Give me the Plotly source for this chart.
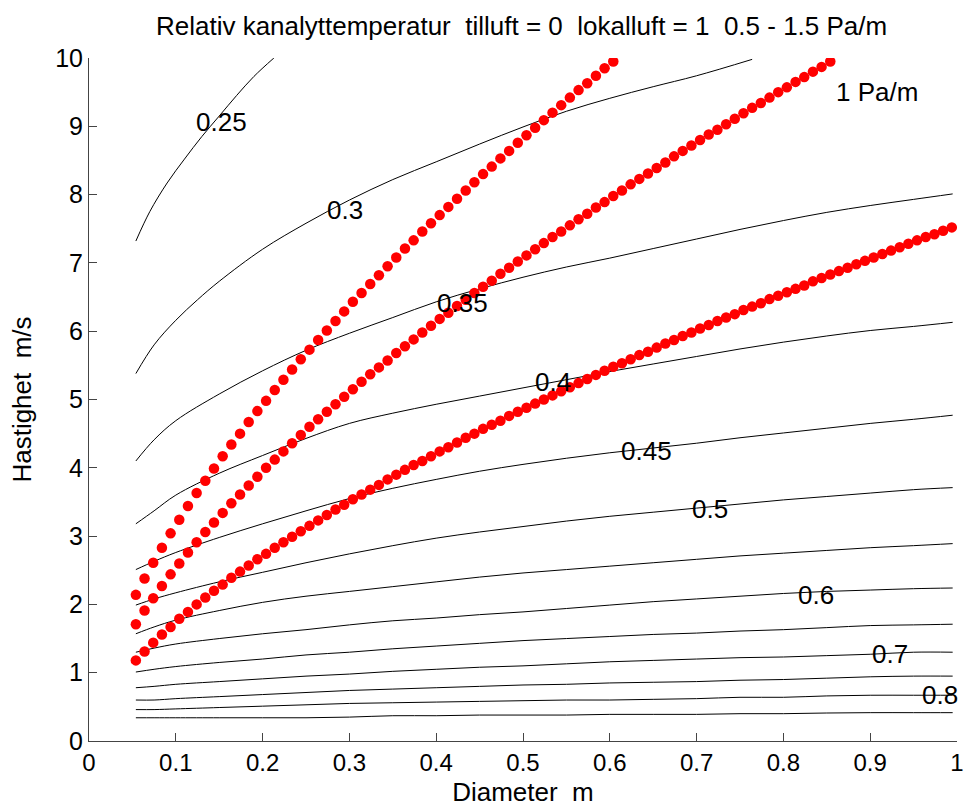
import plotly.graph_objects as go

# Diameters (m) at which the red pressure-drop dots are drawn
D = [0.054, 0.064, 0.074, 0.084, 0.094, 0.104, 0.114, 0.124, 0.134, 0.144,
     0.154, 0.164, 0.174, 0.184, 0.194, 0.204, 0.214, 0.224, 0.234, 0.244,
     0.254, 0.264, 0.274, 0.284, 0.294, 0.304, 0.314, 0.324, 0.334, 0.344,
     0.354, 0.364, 0.374, 0.384, 0.394, 0.404, 0.414, 0.424, 0.434, 0.444,
     0.454, 0.464, 0.474, 0.484, 0.494, 0.504, 0.514, 0.524, 0.534, 0.544,
     0.554, 0.564, 0.574, 0.584, 0.594, 0.604, 0.614, 0.624, 0.634, 0.644,
     0.654, 0.664, 0.674, 0.684, 0.694, 0.704, 0.714, 0.724, 0.734, 0.744,
     0.754, 0.764, 0.774, 0.784, 0.794, 0.804, 0.814, 0.824, 0.834, 0.844,
     0.854, 0.864, 0.874, 0.884, 0.894, 0.904, 0.914, 0.924, 0.934, 0.944,
     0.954, 0.964, 0.974, 0.984, 0.994]

# Velocity (m/s) along constant pressure-drop lines
V_05 = [1.18, 1.31, 1.44, 1.56, 1.67, 1.79, 1.89, 2.00, 2.10, 2.20,
        2.29, 2.39, 2.48, 2.57, 2.66, 2.74, 2.83, 2.91, 2.99, 3.07,
        3.15, 3.23, 3.31, 3.39, 3.46, 3.54, 3.61, 3.68, 3.75, 3.83,
        3.90, 3.97, 4.04, 4.10, 4.17, 4.24, 4.30, 4.37, 4.44, 4.50,
        4.57, 4.63, 4.69, 4.76, 4.82, 4.88, 4.94, 5.00, 5.06, 5.12,
        5.18, 5.24, 5.30, 5.36, 5.42, 5.48, 5.53, 5.59, 5.65, 5.70,
        5.76, 5.82, 5.87, 5.93, 5.98, 6.04, 6.09, 6.15, 6.20, 6.25,
        6.31, 6.36, 6.41, 6.47, 6.52, 6.57, 6.62, 6.67, 6.73, 6.78,
        6.83, 6.88, 6.93, 6.98, 7.03, 7.08, 7.13, 7.18, 7.23, 7.28,
        7.33, 7.38, 7.42, 7.47, 7.52]
V_10 = [1.71, 1.91, 2.09, 2.27, 2.44, 2.60, 2.76, 2.91, 3.06, 3.20,
        3.34, 3.48, 3.61, 3.74, 3.87, 4.00, 4.12, 4.24, 4.36, 4.48,
        4.60, 4.71, 4.82, 4.93, 5.04, 5.15, 5.26, 5.37, 5.47, 5.57,
        5.68, 5.78, 5.88, 5.98, 6.08, 6.18, 6.27, 6.37, 6.46, 6.56,
        6.65, 6.74, 6.84, 6.93, 7.02, 7.11, 7.20, 7.29, 7.38, 7.46,
        7.55, 7.64, 7.72, 7.81, 7.89, 7.98, 8.06, 8.15, 8.23, 8.31,
        8.39, 8.47, 8.56, 8.64, 8.72, 8.80, 8.88, 8.95, 9.03, 9.11,
        9.19, 9.27, 9.34, 9.42, 9.50, 9.57, 9.65, 9.72, 9.80, 9.87,
        9.95]
V_15 = [2.14, 2.38, 2.61, 2.83, 3.04, 3.24, 3.44, 3.63, 3.81, 3.99,
        4.17, 4.34, 4.50, 4.67, 4.83, 4.98, 5.14, 5.29, 5.44, 5.59,
        5.73, 5.87, 6.01, 6.15, 6.29, 6.43, 6.56, 6.69, 6.82, 6.95,
        7.08, 7.21, 7.33, 7.46, 7.58, 7.70, 7.82, 7.94, 8.06, 8.18,
        8.30, 8.41, 8.53, 8.64, 8.76, 8.87, 8.98, 9.09, 9.20, 9.31,
        9.42, 9.53, 9.63, 9.74, 9.85, 9.95]

# Contour lines of relative duct temperature
C025_X = [0.054, 0.07, 0.09, 0.11, 0.13, 0.15, 0.17, 0.19, 0.213]
C025_Y = [7.32, 7.75, 8.17, 8.52, 8.85, 9.15, 9.45, 9.73, 10.0]
C030_X = [0.054, 0.075, 0.1, 0.125, 0.15, 0.2, 0.25, 0.3, 0.35, 0.4,
          0.45, 0.5, 0.55, 0.6, 0.65, 0.7, 0.764]
C030_Y = [5.38, 5.80, 6.16, 6.46, 6.73, 7.20, 7.58, 7.92, 8.22, 8.48,
          8.74, 8.99, 9.22, 9.41, 9.58, 9.74, 9.98]
CX = [0.054, 0.075, 0.1, 0.15, 0.2, 0.25, 0.3, 0.35, 0.4, 0.45, 0.5,
      0.55, 0.6, 0.65, 0.7, 0.75, 0.8, 0.85, 0.9, 0.95, 0.995]
C035 = [4.10, 4.41, 4.69, 5.08, 5.42, 5.72, 5.97, 6.20, 6.43, 6.62, 6.79,
        6.94, 7.07, 7.21, 7.35, 7.49, 7.62, 7.74, 7.84, 7.93, 8.01]
C040 = [3.18, 3.37, 3.60, 3.92, 4.18, 4.43, 4.65, 4.80, 4.93, 5.05, 5.17,
        5.29, 5.41, 5.52, 5.63, 5.74, 5.84, 5.93, 6.01, 6.07, 6.13]
C045 = [2.51, 2.63, 2.76, 2.98, 3.18, 3.37, 3.55, 3.70, 3.83, 3.95, 4.05,
        4.14, 4.22, 4.29, 4.36, 4.44, 4.51, 4.58, 4.65, 4.71, 4.77]
C050 = [1.99, 2.08, 2.17, 2.33, 2.47, 2.61, 2.74, 2.86, 2.97, 3.06, 3.14,
        3.22, 3.29, 3.35, 3.41, 3.47, 3.53, 3.58, 3.63, 3.68, 3.71]
C055 = [1.57, 1.67, 1.77, 1.91, 2.03, 2.12, 2.19, 2.26, 2.33, 2.40, 2.46,
        2.51, 2.56, 2.61, 2.66, 2.71, 2.75, 2.79, 2.83, 2.86, 2.89]
C060 = [1.30, 1.36, 1.42, 1.50, 1.57, 1.63, 1.70, 1.76, 1.80, 1.85, 1.89,
        1.94, 1.99, 2.04, 2.08, 2.12, 2.16, 2.19, 2.21, 2.23, 2.24]
C065 = [1.01, 1.05, 1.09, 1.15, 1.20, 1.26, 1.30, 1.35, 1.39, 1.43, 1.47,
        1.50, 1.53, 1.56, 1.58, 1.61, 1.63, 1.66, 1.69, 1.70, 1.71]
C070 = [0.78, 0.80, 0.83, 0.87, 0.91, 0.95, 0.98, 1.02, 1.05, 1.08, 1.10,
        1.13, 1.16, 1.18, 1.20, 1.22, 1.23, 1.25, 1.27, 1.30, 1.30]
C075 = [0.60, 0.60, 0.62, 0.65, 0.68, 0.71, 0.74, 0.76, 0.78, 0.80, 0.82,
        0.83, 0.85, 0.86, 0.87, 0.89, 0.90, 0.92, 0.94, 0.95, 0.95]
C080 = [0.46, 0.46, 0.47, 0.49, 0.51, 0.53, 0.55, 0.56, 0.57, 0.58, 0.59,
        0.60, 0.60, 0.61, 0.62, 0.64, 0.64, 0.66, 0.67, 0.67, 0.67]
C085 = [0.34, 0.34, 0.34, 0.34, 0.34, 0.34, 0.35, 0.37, 0.37, 0.38, 0.38,
        0.38, 0.39, 0.39, 0.39, 0.40, 0.40, 0.41, 0.415, 0.415, 0.415]

LABEL_TEXT = ["0.25", "0.3", "0.35", "0.4", "0.45", "0.5", "0.6", "0.7", "0.8"]
LABEL_X = [0.153, 0.295, 0.430, 0.535, 0.642, 0.715, 0.837, 0.923, 0.980]
LABEL_Y = [9.06, 7.77, 6.42, 5.25, 4.24, 3.39, 2.14, 1.28, 0.67]

TITLE = "Relativ kanalyttemperatur  tilluft = 0  lokalluft = 1  0.5 - 1.5 Pa/m"
REG = "Liberation Sans, Arial, sans-serif"

fig = go.Figure()
line_style = dict(color="black", width=1)
fig.add_trace(go.Scatter(x=C025_X, y=C025_Y, mode="lines", line=line_style,
                         line_shape="spline", showlegend=False, hoverinfo="skip"))
fig.add_trace(go.Scatter(x=C030_X, y=C030_Y, mode="lines", line=line_style,
                         line_shape="spline", showlegend=False, hoverinfo="skip"))
for ys in [C035, C040, C045, C050, C055, C060, C065, C070, C075, C080, C085]:
    fig.add_trace(go.Scatter(x=CX, y=ys, mode="lines", line=line_style,
                             line_shape="spline", showlegend=False, hoverinfo="skip"))

for vals in [V_15, V_10, V_05]:
    fig.add_trace(go.Scatter(x=D[:len(vals)], y=vals, mode="markers",
                             marker=dict(color="#ff0000", size=10.5, line=dict(width=0)),
                             showlegend=False))

for t, x, y in zip(LABEL_TEXT, LABEL_X, LABEL_Y):
    fig.add_annotation(x=x, y=y, text=t, showarrow=False,
                       font=dict(family=REG, size=26, color="black"))
fig.add_annotation(x=0.858, y=9.5, text="1 Pa/m", showarrow=False, xanchor="left",
                   font=dict(family=REG, size=26, color="black"))

axis_common = dict(showgrid=False, zeroline=False, showline=True, linecolor="#444",
                   linewidth=1, ticks="inside", ticklen=8, tickcolor="#444",
                   mirror=False, automargin=False)
fig.update_layout(
    width=965, height=808,
    margin=dict(l=89, r=8, t=58, b=67),
    paper_bgcolor="white", plot_bgcolor="white",
    title=dict(text=TITLE, x=0.5405, xanchor="center", y=0.968, yanchor="middle",
               yref="container", font=dict(family=REG, size=26, color="black")),
    xaxis=dict(range=[0, 1], tickvals=[0, 0.1, 0.2, 0.3, 0.4, 0.5, 0.6, 0.7, 0.8, 0.9, 1],
               ticktext=["0", "0.1", "0.2", "0.3", "0.4", "0.5", "0.6", "0.7", "0.8", "0.9", "1"],
               tickfont=dict(family=REG, size=24, color="black"),
               title=dict(text="Diameter  m", font=dict(family=REG, size=26, color="black"),
                          standoff=8),
               **axis_common),
    yaxis=dict(range=[0, 10], tickvals=list(range(0, 11)),
               tickfont=dict(family=REG, size=25, color="black"),
               title=dict(text="Hastighet  m/s", font=dict(family=REG, size=26, color="black"),
                          standoff=16),
               **axis_common),
)
fig.write_html("out.html")
